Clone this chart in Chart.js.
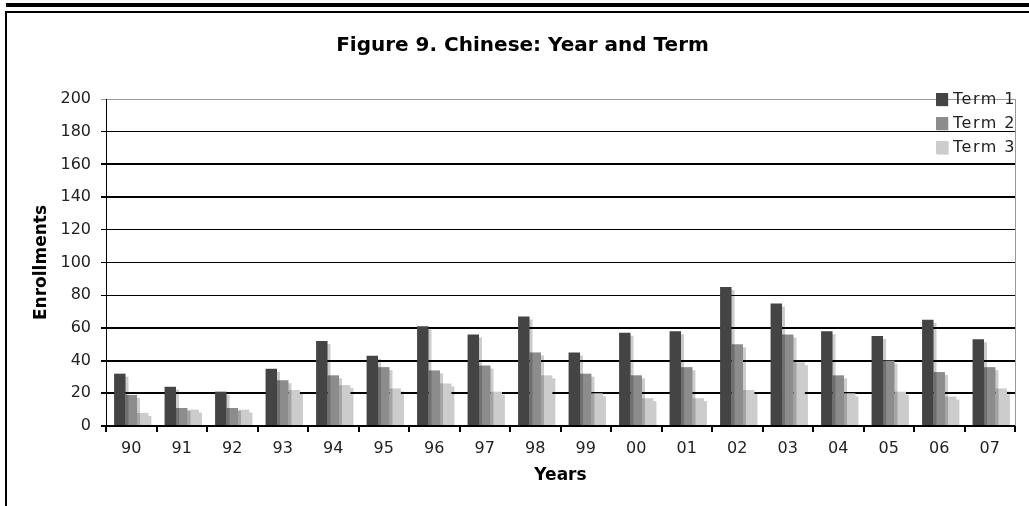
<!DOCTYPE html>
<html><head><meta charset="utf-8">
<script src="https://cdn.jsdelivr.net/npm/chart.js@4/dist/chart.umd.min.js"></script>
<style>
html,body{margin:0;padding:0;background:#fff;overflow:hidden}
#wrap{position:relative;width:1029px;height:506px}
canvas{position:absolute;left:0;top:0}
#bar{position:absolute;left:6px;top:3px;right:0;height:4px;background:#000}
#frameTop{position:absolute;left:5px;top:11px;right:0;height:2px;background:#000}
#frameLeft{position:absolute;left:5px;top:11px;bottom:0;width:2px;background:#000}
</style></head>
<body><div id="wrap"><canvas id="c" width="1029" height="506"></canvas><div id="bar"></div><div id="frameTop"></div><div id="frameLeft"></div></div>
<script>
const years = ['90','91','92','93','94','95','96','97','98','99','00','01','02','03','04','05','06','07'];
const term1 = [32,24,21,35,52,43,61,56,67,45,57,58,85,75,58,55,65,53];
const term2 = [19,11,11,28,31,36,34,37,45,32,31,36,50,56,31,40,33,36];
const term3 = [8,10,10,22,25,23,26,21,31,20,17,17,22,39,20,21,18,23];
const seriesNames = ['Term 1','Term 2','Term 3'];
const seriesColors = ['#444444','#8c8c8c','#cccccc'];
const yTicks = [0,20,40,60,80,100,120,140,160,180,200];

const FONT = "'DejaVu Sans', Verdana, sans-serif";
const thick = new Set([0,20,40,60,140,160]);

const shadowPlugin = {
  id: 'barShadow',
  beforeDatasetsDraw(chart) {
    const ctx = chart.ctx;
    ctx.save();
    ctx.shadowColor = 'rgba(0,0,0,0.2)';
    ctx.shadowOffsetX = 3;
    ctx.shadowOffsetY = 3;
    ctx.shadowBlur = 0;
  },
  afterDatasetsDraw(chart) {
    chart.ctx.restore();
    const ctx = chart.ctx, a = chart.chartArea;
    ctx.save();
    ctx.strokeStyle = '#999';
    ctx.lineWidth = 1;
    ctx.beginPath();
    ctx.moveTo(a.right + 0.5, a.top);
    ctx.lineTo(a.right + 0.5, a.bottom);
    ctx.stroke();
    ctx.restore();
  }
};

const legendPlugin = {
  id: 'customLegend',
  afterDraw(chart) {
    const ctx = chart.ctx;
    ctx.save();
    chart.data.datasets.forEach((ds, i) => {
      const y = 93 + i * 24;
      ctx.fillStyle = 'rgba(0,0,0,0.12)';
      ctx.fillRect(937, y + 1, 12, 13);
      ctx.fillStyle = ds.backgroundColor;
      ctx.fillRect(936, y, 12, 13);
      ctx.fillStyle = '#222';
      ctx.font = '16px ' + FONT;
      ctx.letterSpacing = '1.5px';
      ctx.textBaseline = 'middle';
      ctx.textAlign = 'left';
      ctx.fillText(ds.label, 953, y + 7);
    });
    ctx.restore();
  }
};

new Chart(document.getElementById('c'), {
  type: 'bar',
  data: {
    labels: years,
    datasets: [
      {label: seriesNames[0], data: term1, backgroundColor: seriesColors[0]},
      {label: seriesNames[1], data: term2, backgroundColor: seriesColors[1]},
      {label: seriesNames[2], data: term3, backgroundColor: seriesColors[2]}
    ]
  },
  options: {
    responsive: false,
    animation: false,
    layout: {padding: {left: 30, right: 14, top: 0, bottom: 0}},
    datasets: {bar: {categoryPercentage: 0.68, barPercentage: 1.0, borderWidth: 0}},
    plugins: {
      legend: {display: false},
      tooltip: {enabled: false},
      title: {
        display: true,
        text: 'Figure 9. Chinese: Year and Term',
        color: '#000',
        font: {family: FONT, size: 20, weight: 'bold'},
        padding: {top: 34, bottom: 41}
      }
    },
    scales: {
      x: {
        afterFit: s => { s.height = 80; },
        grid: {display: true, drawOnChartArea: false, drawTicks: true, tickLength: 6, color: '#000', lineWidth: 2, offset: true},
        border: {display: true, color: '#000', width: 2},
        ticks: {color: '#222', font: {family: FONT, size: 16}, padding: 7, maxRotation: 0, autoSkip: false},
        title: {display: true, text: 'Years', color: '#000', font: {family: FONT, size: 17, weight: 'bold'}, padding: {top: 0, bottom: 20}}
      },
      y: {
        min: 0, max: 200,
        afterFit: s => { s.width = 76; },
        afterBuildTicks: s => { s.ticks = yTicks.map(v => ({value: v})); },
        grid: {
          color: c => (c.tick && c.tick.value === 200) ? '#999' : '#000',
          lineWidth: c => (c.tick && thick.has(c.tick.value)) ? 2 : 1,
          tickLength: 5, drawTicks: true
        },
        border: {display: true, color: '#000', width: 1},
        ticks: {color: '#222', font: {family: FONT, size: 16}, padding: 10},
        title: {display: true, text: 'Enrollments', color: '#000', font: {family: FONT, size: 17, weight: 'bold'}, padding: {top: 1, bottom: 0}}
      }
    }
  },
  plugins: [shadowPlugin, legendPlugin]
});
</script>
</body></html>
